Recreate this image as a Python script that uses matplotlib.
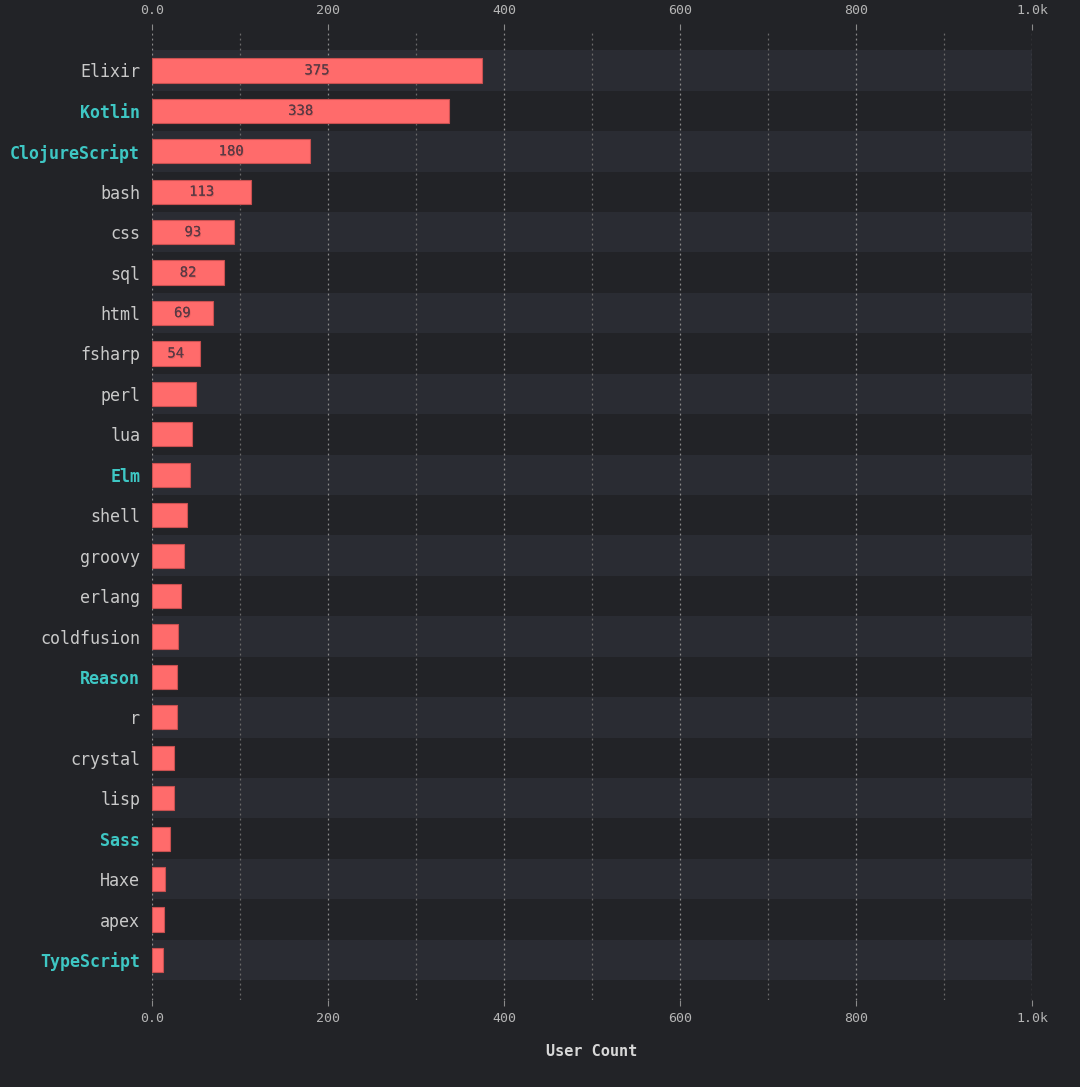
import matplotlib.pyplot as plt
import matplotlib.patheffects as pe
from matplotlib.ticker import FixedLocator

languages = ['Elixir', 'Kotlin', 'ClojureScript', 'bash', 'css', 'sql', 'html',
             'fsharp', 'perl', 'lua', 'Elm', 'shell', 'groovy', 'erlang',
             'coldfusion', 'Reason', 'r', 'crystal', 'lisp', 'Sass', 'Haxe',
             'apex', 'TypeScript']
user_counts = [375, 338, 180, 113, 93, 82, 69, 54, 50, 45, 43, 40, 36, 33,
               30, 28, 28, 25, 25, 20, 15, 14, 13]
highlighted = ['Kotlin', 'ClojureScript', 'Elm', 'Reason', 'Sass', 'TypeScript']
labelled = ['Elixir', 'Kotlin', 'ClojureScript', 'bash', 'css', 'sql', 'html', 'fsharp']
tick_values = [0, 200, 400, 600, 800, 1000]
tick_labels = ['0.0', '200', '400', '600', '800', '1.0k']

BG = '#222327'
BAND = '#2a2c33'
BAR = '#ff6b6b'
TEXT = '#c9c9c9'
TEAL = '#3ec7c4'
MONO = ['DejaVu Sans Mono']

fig = plt.figure(figsize=(10.8, 10.87), dpi=100, facecolor=BG)
ax = fig.add_axes([152 / 1080, 1 - 1000 / 1087, 880 / 1080, 970 / 1087])
ax.set_facecolor(BG)

y = list(range(len(languages)))
for i in y:
    if i % 2 == 0:
        ax.axhspan(i - 0.5, i + 0.5, color=BAND, zorder=0, lw=0)

for xv in range(0, 1001, 100):
    ax.axvline(xv, color='#8a8a8a' if xv % 200 == 0 else '#6a6a6a',
               lw=0.9, ls=(0, (1.5, 2.5)), zorder=1)

bars = ax.barh(y, user_counts, height=0.6, color=BAR, edgecolor='#c95050',
               linewidth=0.8, zorder=2)

for i, (lang, v) in enumerate(zip(languages, user_counts)):
    if lang in labelled:
        ax.text(v / 2, i, str(v), ha='center', va='center', fontsize=10,
                color='#5a3a44', family=MONO, zorder=3,
                path_effects=[pe.withSimplePatchShadow(offset=(0.6, -0.8),
                                                       shadow_rgbFace='#c04848', alpha=0.4),
                              pe.Normal()])

ax.set_xlim(0, 1000)
ax.set_ylim(len(languages) - 1 + 0.99, -1.0)

ax.set_yticks(y)
ax.set_yticklabels(languages, family=MONO, fontsize=12)
for lbl in ax.get_yticklabels():
    if lbl.get_text() in highlighted:
        lbl.set_color(TEAL)
        lbl.set_fontweight('bold')
    else:
        lbl.set_color(TEXT)
ax.tick_params(axis='y', length=0, pad=8.5)

ax.xaxis.set_major_locator(FixedLocator(tick_values))
ax.set_xticklabels(tick_labels, family=MONO, fontsize=9.5, color='#b5b5b5')
ax.tick_params(axis='x', which='both', top=True, labeltop=True, bottom=True,
               labelbottom=True, length=4.5, color='#8a8a8a', pad=4.5)

for s in ax.spines.values():
    s.set_visible(False)

ax.set_xlabel('User Count', family=MONO, fontsize=11, fontweight='bold',
              color='#d8d8d8', labelpad=13)

fig.savefig('out.png', dpi=100, facecolor=BG)
